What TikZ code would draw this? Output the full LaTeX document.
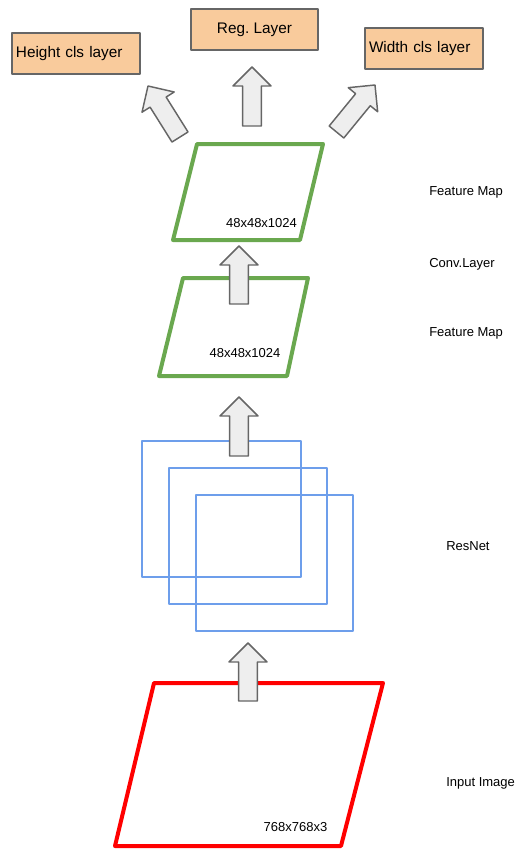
\documentclass[tikz,border=0pt]{standalone}
\usepackage{fontspec}
\setmainfont{Liberation Sans}
\usetikzlibrary{calc}

\definecolor{mapgreen}{RGB}{106,168,79}
\definecolor{resblue}{RGB}{109,158,235}
\definecolor{inputred}{RGB}{255,0,0}
\definecolor{headpeach}{RGB}{249,203,156}
\definecolor{edgegray}{RGB}{102,102,102}
\definecolor{arrowfill}{RGB}{238,238,238}

% Flecha gruesa entre dos coordenadas con nombre
\newcommand\blockarrow[2]{%
  \coordinate (ah) at ($(#2)!14.25pt!(#1)$);
  \draw[bigarrow]
    ($(#1)!7.1pt!90:(#2)$) -- ($(ah)!7.1pt!90:(#2)$) --
    ($(ah)!14.25pt!90:(#2)$) -- (#2) --
    ($(ah)!14.25pt!-90:(#2)$) -- ($(ah)!7.1pt!-90:(#2)$) --
    ($(#1)!7.1pt!-90:(#2)$) -- cycle;}

\begin{document}
\frenchspacing
\begin{tikzpicture}[x=0.75pt,y=-0.75pt,line join=round,
    bigarrow/.style={draw=edgegray,line width=1.1pt,fill=arrowfill},
    headbox/.style={draw=edgegray,line width=1.2pt,fill=headpeach,
      minimum height=30.75pt,inner xsep=3pt,
      font=\fontsize{11.5}{13}\selectfont},
    sidelabel/.style={anchor=west,inner sep=0pt,
      font=\fontsize{9.75}{11}\selectfont},
    dimlabel/.style={inner sep=0pt,font=\fontsize{9.75}{11}\selectfont},
    mapframe/.style={draw=mapgreen,line width=3pt},
    resframe/.style={draw=resblue,line width=1.5pt}]
        \useasboundingbox (0,0) rectangle (516,850);

        % ResNet
        \draw[resframe] (142,441) rectangle (301,577);
        \draw[resframe] (169,468) rectangle (327,604);
        \draw[resframe] (196,495) rectangle (353,631);

        % Mapas de características
        \draw[mapframe] (197,144) -- (323,144) -- (300,240) -- (173,240) -- cycle;
        \draw[mapframe] (183,278) -- (308,278) -- (287,376) -- (159,376) -- cycle;

        % Imagen de entrada
        \draw[inputred,line width=3pt]
            (154,683) -- (383,683) -- (341,846) -- (115,846) -- cycle;

        % Capas de salida
        \node[headbox,minimum width=96pt,text width=90pt,align=left]
            (height) at (76,53.5) {Height cls layer};
        \node[headbox,minimum width=95.25pt]
            (reg) at (254.5,29.5) {Reg. Layer};
        \node[headbox,minimum width=88.5pt,text width=82.5pt,align=left]
            (width) at (424,48.5) {Width cls layer};

        % Extremos de las flechas
        \coordinate (in-s) at (248,701);  \coordinate (in-t) at (248,643);
        \coordinate (res-s) at (239,456); \coordinate (res-t) at (239,397);
        \coordinate (conv-s) at (239,304); \coordinate (conv-t) at (239,246);
        \coordinate (hgt-s) at (180,137); \coordinate (hgt-t) at (148,86);
        \coordinate (reg-s) at (252,126); \coordinate (reg-t) at (252,67);
        \coordinate (wid-s) at (336.5,132); \coordinate (wid-t) at (375,85);

        \blockarrow{in-s}{in-t}
        \blockarrow{res-s}{res-t}
        \blockarrow{conv-s}{conv-t}
        \blockarrow{hgt-s}{hgt-t}
        \blockarrow{reg-s}{reg-t}
        \blockarrow{wid-s}{wid-t}

        % Dimensiones
        \node[dimlabel] (dim-top) at (261.5,223) {48x48x1024};
        \node[dimlabel] (dim-mid) at (245,353) {48x48x1024};
        \node[dimlabel] (dim-in) at (295.5,827) {768x768x3};

        % Rótulos a la derecha
        \node[sidelabel] (lbl-fm1) at (429,192) {Feature Map};
        \node[sidelabel] (lbl-conv) at (429,264) {Conv.Layer};
        \node[sidelabel] (lbl-fm2) at (429,333) {Feature Map};
        \node[sidelabel] (lbl-res) at (446,546) {ResNet};
        \node[sidelabel] (lbl-in) at (446,783) {Input Image};
    \end{tikzpicture}
\end{document}
